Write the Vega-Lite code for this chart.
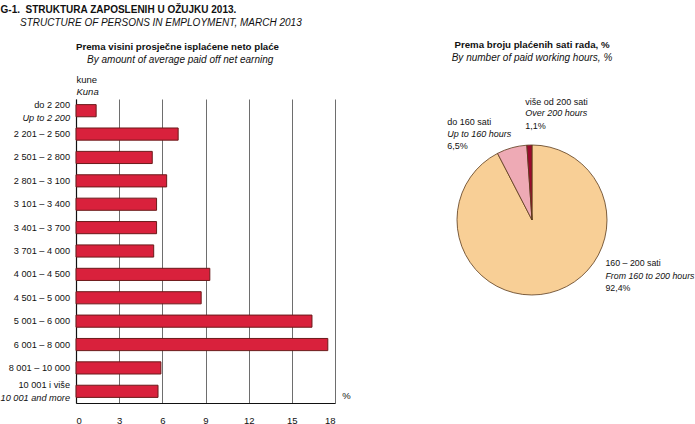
{
  "$schema": "https://vega.github.io/schema/vega-lite/v6.json",
  "background": "white",
  "padding": {"left": 0, "top": 5, "right": 0, "bottom": 0},
  "config": {
    "font": "Liberation Sans, Arial, sans-serif",
    "view": {"stroke": null},
    "concat": {"spacing": 96}
  },
  "title": {
    "text": "G-1.\u00a0\u00a0STRUKTURA ZAPOSLENIH U OŽUJKU 2013.",
    "subtitle": "\u200b\u00a0\u00a0\u00a0\u00a0\u00a0\u00a0\u00a0STRUCTURE OF PERSONS IN EMPLOYMENT, MARCH 2013",
    "anchor": "start",
    "frame": "bounds",
    "fontSize": 10,
    "fontWeight": "bold",
    "color": "#111",
    "subtitleFontSize": 10,
    "subtitleFontStyle": "italic",
    "subtitleColor": "#111",
    "subtitlePadding": 3,
    "offset": 12
  },
  "datasets": {
    "earn": [
      {"k": "a", "l1": "do 2 200", "l2": "Up to 2 200", "pct": 1.4},
      {"k": "b", "l1": "2 201 – 2 500", "l2": "", "pct": 7.1},
      {"k": "c", "l1": "2 501 – 2 800", "l2": "", "pct": 5.3},
      {"k": "d", "l1": "2 801 – 3 100", "l2": "", "pct": 6.3},
      {"k": "e", "l1": "3 101 – 3 400", "l2": "", "pct": 5.6},
      {"k": "f", "l1": "3 401 – 3 700", "l2": "", "pct": 5.6},
      {"k": "g", "l1": "3 701 – 4 000", "l2": "", "pct": 5.4},
      {"k": "h", "l1": "4 001 – 4 500", "l2": "", "pct": 9.3},
      {"k": "i", "l1": "4 501 – 5 000", "l2": "", "pct": 8.7},
      {"k": "j", "l1": "5 001 – 6 000", "l2": "", "pct": 16.4},
      {"k": "k", "l1": "6 001 – 8 000", "l2": "", "pct": 17.5},
      {"k": "l", "l1": "8 001 – 10 000", "l2": "", "pct": 5.9},
      {"k": "m", "l1": "10 001 i više", "l2": "10 001 and more", "pct": 5.7}
    ],
    "hours": [
      {"ord": 1, "cat": "mid", "l1": "160 – 200 sati", "l2": "From 160 to 200 hours", "l3": "92,4%", "pct": 92.4},
      {"ord": 2, "cat": "low", "l1": "do 160 sati", "l2": "Up to 160 hours", "l3": "6,5%", "pct": 6.5},
      {"ord": 3, "cat": "high", "l1": "više od 200 sati", "l2": "Over 200 hours", "l3": "1,1%", "pct": 1.1}
    ]
  },
  "hconcat": [
    {
      "width": 259,
      "height": 304,
      "title": {
        "text": "Prema visini prosječne isplaćene neto plaće",
        "subtitle": "\u200b\u00a0\u00a0\u00a0\u00a0By amount of average paid off net earning",
        "anchor": "start",
        "frame": "group",
        "fontSize": 9.7,
        "fontWeight": "bold",
        "color": "#111",
        "subtitleFontSize": 10,
        "subtitleFontStyle": "italic",
        "subtitleColor": "#111",
        "subtitlePadding": 3,
        "offset": 9
      },
      "data": {"name": "earn"},
      "layer": [
        {
          "mark": {"type": "bar", "fill": "#d9213c", "stroke": "#6b1a1a", "strokeWidth": 1},
          "encoding": {
            "x": {
              "field": "pct",
              "type": "quantitative",
              "scale": {"domain": [0, 18], "nice": false},
              "axis": {
                "values": [0, 3, 6, 9, 12, 15, 18],
                "grid": true,
                "gridColor": "#6e6e6e",
                "gridOpacity": 1,
                "gridWidth": 1,
                "ticks": false,
                "domainColor": "#111",
                "domainWidth": 1.2,
                "labelFontSize": 9.5,
                "labelColor": "#111",
                "labelPadding": 12,
                "title": "%",
                "titleFontSize": 9.5,
                "titleFontWeight": "normal",
                "titleColor": "#111",
                "titleX": 270,
                "titleY": -8,
                "titleBaseline": "middle",
                "titleAlign": "center"
              }
            },
            "y": {
              "field": "k",
              "type": "nominal",
              "sort": null,
              "scale": {"paddingInner": 0.48, "paddingOuter": 0.24},
              "axis": {
                "labels": false,
                "ticks": false,
                "domainColor": "#111",
                "domainWidth": 1.2,
                "title": "kune",
                "titleAngle": 0,
                "titleAlign": "left",
                "titleBaseline": "alphabetic",
                "titleX": 0,
                "titleY": -17,
                "titleFontSize": 9.5,
                "titleFontWeight": "normal",
                "titleColor": "#111"
              }
            }
          }
        },
        {
          "mark": {"type": "text", "align": "right", "baseline": "middle", "dx": -6, "fontSize": 9.2, "color": "#111"},
          "encoding": {
            "x": {"datum": 0, "type": "quantitative"},
            "y": {
              "field": "k",
              "type": "nominal",
              "sort": null,
              "axis": {
                "orient": "right",
                "labels": false,
                "ticks": false,
                "domain": false,
                "title": "Kuna",
                "titleAngle": 0,
                "titleAlign": "left",
                "titleBaseline": "alphabetic",
                "titleX": -259,
                "titleY": -5,
                "titleFontSize": 9.5,
                "titleFontWeight": "normal",
                "titleFontStyle": "italic",
                "titleColor": "#111"
              }
            },
            "text": {
              "condition": {"test": "datum.l2 != ''", "value": ""},
              "field": "l1"
            }
          }
        },
        {
          "mark": {"type": "text", "align": "right", "baseline": "middle", "dx": -6, "dy": -6, "fontSize": 9.2, "color": "#111"},
          "encoding": {
            "x": {"datum": 0, "type": "quantitative"},
            "y": {"field": "k", "type": "nominal", "sort": null, "axis": null},
            "text": {
              "condition": {"test": "datum.l2 == ''", "value": ""},
              "field": "l1"
            }
          }
        },
        {
          "mark": {"type": "text", "align": "right", "baseline": "middle", "dx": -6, "dy": 7, "fontSize": 9.2, "fontStyle": "italic", "color": "#111"},
          "encoding": {
            "x": {"datum": 0, "type": "quantitative"},
            "y": {"field": "k", "type": "nominal", "sort": null, "axis": null},
            "text": {"field": "l2"}
          }
        }
      ],
      "resolve": {"axis": {"y": "independent"}}
    },
    {
      "width": 150,
      "height": 242,
      "title": {
        "text": "Prema broju plaćenih sati rada, %",
        "subtitle": "By number of paid working hours, %",
        "anchor": "middle",
        "fontSize": 9.7,
        "fontWeight": "bold",
        "color": "#111",
        "subtitleFontSize": 10,
        "subtitleFontStyle": "italic",
        "subtitleColor": "#111",
        "subtitlePadding": 3,
        "offset": 35
      },
      "data": {"name": "hours"},
      "encoding": {
        "theta": {"field": "pct", "type": "quantitative", "stack": true, "scale": {"domain": [0, 100]}},
        "order": {"field": "ord", "type": "quantitative"}
      },
      "layer": [
        {
          "mark": {"type": "arc", "outerRadius": 75, "stroke": "#5b3a1a", "strokeWidth": 0.8},
          "encoding": {
            "color": {
              "field": "cat",
              "type": "nominal",
              "scale": {"domain": ["mid", "low", "high"], "range": ["#f8cf96", "#eeaab5", "#9b0a2e"]},
              "legend": null
            }
          }
        },
        {
          "transform": [{"filter": "datum.cat == 'mid'"}],
          "layer": [
            {"mark": {"type": "text", "radius": 95, "align": "left", "baseline": "middle", "fontSize": 8.8, "color": "#111", "dx": 51, "dy": -49}, "encoding": {"text": {"field": "l1"}}},
            {"mark": {"type": "text", "radius": 95, "align": "left", "baseline": "middle", "fontSize": 8.8, "fontStyle": "italic", "color": "#111", "dx": 51, "dy": -36}, "encoding": {"text": {"field": "l2"}}},
            {"mark": {"type": "text", "radius": 95, "align": "left", "baseline": "middle", "fontSize": 8.8, "color": "#111", "dx": 51, "dy": -24}, "encoding": {"text": {"field": "l3"}}}
          ]
        },
        {
          "transform": [{"filter": "datum.cat == 'low'"}],
          "layer": [
            {"mark": {"type": "text", "radius": 95, "align": "left", "baseline": "middle", "fontSize": 9, "color": "#111", "dx": -104, "dy": -5}, "encoding": {"text": {"field": "l1"}}},
            {"mark": {"type": "text", "radius": 95, "align": "left", "baseline": "middle", "fontSize": 9, "fontStyle": "italic", "color": "#111", "dx": -104, "dy": 7}, "encoding": {"text": {"field": "l2"}}},
            {"mark": {"type": "text", "radius": 95, "align": "left", "baseline": "middle", "fontSize": 9, "color": "#111", "dx": -104, "dy": 19}, "encoding": {"text": {"field": "l3"}}}
          ]
        },
        {
          "transform": [{"filter": "datum.cat == 'high'"}],
          "layer": [
            {"mark": {"type": "text", "radius": 95, "align": "left", "baseline": "middle", "fontSize": 9, "color": "#111", "dx": -10, "dy": -23}, "encoding": {"text": {"field": "l1"}}},
            {"mark": {"type": "text", "radius": 95, "align": "left", "baseline": "middle", "fontSize": 9, "fontStyle": "italic", "color": "#111", "dx": -10, "dy": -12}, "encoding": {"text": {"field": "l2"}}},
            {"mark": {"type": "text", "radius": 95, "align": "left", "baseline": "middle", "fontSize": 9, "color": "#111", "dx": -10, "dy": 1}, "encoding": {"text": {"field": "l3"}}}
          ]
        }
      ]
    }
  ]
}
